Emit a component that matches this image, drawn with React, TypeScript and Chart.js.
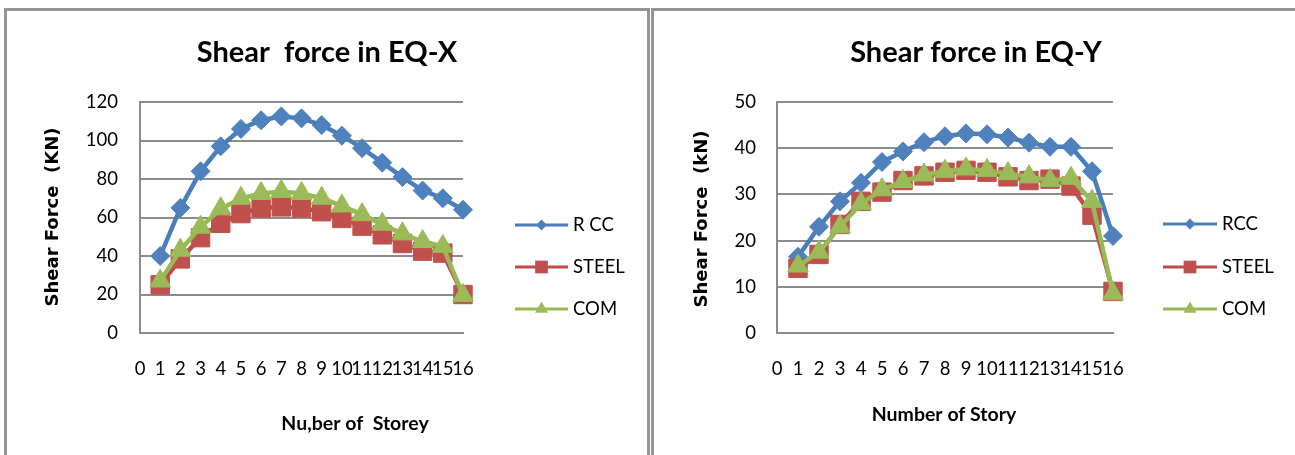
import React, { useEffect, useRef } from 'react';
import { Chart, registerables } from 'chart.js';

Chart.register(...registerables);

// ---------- data ----------
const storeyLabels = ['0', '1', '2', '3', '4', '5', '6', '7', '8', '9', '10', '11', '12', '13', '14', '15', '16'];

const eqxRcc = [40, 65, 84, 97, 106, 110.5, 112.5, 111.5, 108, 102.5, 96, 88.5, 81, 74, 70, 64];
const eqxSteel = [25, 38.5, 49.5, 57, 62, 65, 65.5, 65, 63, 59.5, 55.5, 51, 46.5, 42.5, 41.5, 20];
const eqxCom = [27, 43, 55, 64.5, 70, 72.5, 73.5, 72.5, 70, 66, 61.5, 56.5, 51.5, 47.5, 45, 19.5];

const eqyRcc = [16.5, 23, 28.5, 32.5, 37, 39.3, 41.3, 42.6, 43.2, 43, 42.3, 41.2, 40.3, 40.3, 35, 21];
const eqySteel = [14, 17, 23.5, 28.5, 30.5, 33, 34, 34.8, 35.2, 34.8, 33.8, 33, 33.3, 31.8, 25.5, 9];
const eqyCom = [14.5, 17.5, 23, 28, 31, 32.8, 34.2, 35, 35.5, 35.2, 34.5, 33.8, 33, 33.5, 28.5, 8.5];

const eqxLegend = ['R CC', 'STEEL', 'COM'];
const eqyLegend = ['RCC', 'STEEL', 'COM'];

// ---------- styles ----------
const H = 455;
const Y_W = 60;
const X_H = 60;
const TXT = 'Lato, "Open Sans", sans-serif';
const AXT = '"DejaVu Sans", Verdana, sans-serif';
const GRID = '#8c8c8c';
const SERIES = [
  { line: '#4a7ebb', fill: '#4f81bd', style: 'rectRot', r: 9.5, lr: 5.5 },
  { line: '#be4b48', fill: '#c0504d', style: 'rect', r: 13, lr: 9 },
  { line: '#98b954', fill: '#9bbb59', style: 'triangle', r: 12, lr: 7.5 },
];

type Cfg = {
  offsetX: number;
  width: number;
  title: string;
  titleX: number;
  yTitle: string;
  yTitleX: number;
  yTitleY: number;
  xTitle: string;
  xTitleX: number;
  xTitleY: number;
  yMax: number;
  yStep: number;
  yPad: number;
  area: { left: number; top: number; right: number; bottom: number };
  series: number[][];
  legend: string[];
  legX1: number;
  legX2: number;
  legTextX: number;
  legY: number[];
};

function drawMarker(ctx: CanvasRenderingContext2D, style: string, x: number, y: number, r: number) {
  ctx.beginPath();
  if (style === 'rectRot') {
    ctx.moveTo(x - r, y);
    ctx.lineTo(x, y - r);
    ctx.lineTo(x + r, y);
    ctx.lineTo(x, y + r);
  } else if (style === 'rect') {
    const s = r * Math.SQRT1_2;
    ctx.rect(x - s, y - s, 2 * s, 2 * s);
  } else {
    const h = r * 0.866;
    ctx.moveTo(x, y - r);
    ctx.lineTo(x + h, y + r / 2);
    ctx.lineTo(x - h, y + r / 2);
  }
  ctx.closePath();
  ctx.fill();
}

function ShearChart({ cfg }: { cfg: Cfg }) {
  const ref = useRef<HTMLCanvasElement>(null);
  useEffect(() => {
    const canvas = ref.current!;
    const decor = {
      id: 'decor',
      afterDraw(chart: any) {
        const ctx: CanvasRenderingContext2D = chart.ctx;
        ctx.save();
        ctx.fillStyle = '#000';
        // title
        ctx.font = `bold 29px ${TXT}`;
        ctx.textAlign = 'center';
        ctx.textBaseline = 'alphabetic';
        ctx.fillText(cfg.title, cfg.titleX, 62);
        // x title
        ctx.font = `bold 19.5px ${TXT}`;
        ctx.textBaseline = 'middle';
        ctx.fillText(cfg.xTitle, cfg.xTitleX, cfg.xTitleY);
        // y title
        ctx.save();
        ctx.translate(cfg.yTitleX, cfg.yTitleY);
        ctx.rotate(-Math.PI / 2);
        ctx.font = `bold 18px ${AXT}`;
        ctx.textAlign = 'center';
        ctx.textBaseline = 'middle';
        ctx.fillText(cfg.yTitle, 0, 0);
        ctx.restore();
        // legend
        cfg.legend.forEach((name, i) => {
          const s = SERIES[i];
          const y = cfg.legY[i];
          ctx.strokeStyle = s.line;
          ctx.lineWidth = 3;
          ctx.beginPath();
          ctx.moveTo(cfg.legX1, y);
          ctx.lineTo(cfg.legX2, y);
          ctx.stroke();
          ctx.fillStyle = s.fill;
          drawMarker(ctx, s.style, (cfg.legX1 + cfg.legX2) / 2, y, s.lr);
          ctx.fillStyle = '#000';
          ctx.font = `18.5px ${TXT}`;
          ctx.textAlign = 'left';
          ctx.textBaseline = 'middle';
          ctx.fillText(name, cfg.legTextX, y);
        });
        ctx.restore();
      },
    };
    const chart = new Chart(canvas, {
      type: 'line',
      data: {
        labels: storeyLabels,
        datasets: cfg.series.map((vals, i) => ({
          label: cfg.legend[i],
          data: [null, ...vals],
          borderColor: SERIES[i].line,
          backgroundColor: SERIES[i].fill,
          borderWidth: 4.5,
          tension: 0,
          pointStyle: SERIES[i].style as any,
          pointRadius: SERIES[i].r,
          pointBackgroundColor: SERIES[i].fill,
          pointBorderColor: SERIES[i].fill,
          pointBorderWidth: 1,
          clip: false as any,
          order: 3 - i,
        })),
      },
      options: {
        responsive: false,
        animation: false,
        devicePixelRatio: 1,
        events: [],
        layout: {
          padding: {
            left: cfg.area.left - Y_W,
            top: cfg.area.top,
            right: cfg.width - cfg.area.right,
            bottom: H - cfg.area.bottom - X_H,
          },
        },
        plugins: {
          legend: { display: false },
          title: { display: false },
          tooltip: { enabled: false },
        },
        scales: {
          x: {
            type: 'category',
            offset: false,
            grid: { display: false, drawTicks: false },
            border: { display: true, color: GRID, width: 2 },
            ticks: {
              autoSkip: false,
              maxRotation: 0,
              minRotation: 0,
              padding: 25,
              color: '#000',
              font: { family: TXT, size: 18.5 },
            },
            afterFit: (s: any) => {
              s.height = X_H;
            },
          },
          y: {
            min: 0,
            max: cfg.yMax,
            grid: { color: GRID, lineWidth: 2, drawTicks: false },
            border: { display: true, color: GRID, width: 2 },
            ticks: {
              stepSize: cfg.yStep,
              padding: cfg.yPad,
              color: '#000',
              font: { family: TXT, size: 18.5 },
            },
            afterFit: (s: any) => {
              s.width = Y_W;
            },
          },
        },
      },
      plugins: [decor],
    });
    return () => chart.destroy();
  }, [cfg]);
  return (
    <canvas
      ref={ref}
      width={cfg.width}
      height={H}
      style={{ position: 'absolute', left: cfg.offsetX, top: 0, width: cfg.width, height: H }}
    />
  );
}

const leftCfg: Cfg = {
  offsetX: 0,
  width: 648,
  title: 'Shear  force in EQ-X',
  titleX: 327,
  yTitle: 'Shear Force  (KN)',
  yTitleX: 53,
  yTitleY: 217,
  xTitle: 'Nu,ber of  Storey',
  xTitleX: 355,
  xTitleY: 424,
  yMax: 120,
  yStep: 20,
  yPad: 22,
  area: { left: 140, top: 102, right: 463, bottom: 333 },
  series: [eqxRcc, eqxSteel, eqxCom],
  legend: eqxLegend,
  legX1: 515,
  legX2: 568,
  legTextX: 573,
  legY: [225, 267, 309],
};

const rightCfg: Cfg = {
  offsetX: 653,
  width: 642,
  title: 'Shear force in EQ-Y',
  titleX: 976 - 653,
  yTitle: 'Shear Force  (kN)',
  yTitleX: 702 - 653,
  yTitleY: 219,
  xTitle: 'Number of Story',
  xTitleX: 944 - 653,
  xTitleY: 415,
  yMax: 50,
  yStep: 10,
  yPad: 21,
  area: { left: 777 - 653, top: 102, right: 1113 - 653, bottom: 333 },
  series: [eqyRcc, eqySteel, eqyCom],
  legend: eqyLegend,
  legX1: 1163 - 653,
  legX2: 1217 - 653,
  legTextX: 1222 - 653,
  legY: [224, 267, 309],
};

export default function App() {
  return (
    <div
      style={{
        position: 'absolute',
        left: 0,
        top: 0,
        width: 1295,
        height: 455,
        overflow: 'hidden',
        background: '#fff',
      }}
    >
      <div
        style={{
          position: 'absolute',
          left: 4,
          top: 8,
          width: 640,
          height: 470,
          border: '3px solid #959595',
          boxSizing: 'content-box',
        }}
      />
      <div
        style={{
          position: 'absolute',
          left: 651,
          top: 8,
          width: 700,
          height: 470,
          border: '3px solid #959595',
        }}
      />
      <ShearChart cfg={leftCfg} />
      <ShearChart cfg={rightCfg} />
    </div>
  );
}
